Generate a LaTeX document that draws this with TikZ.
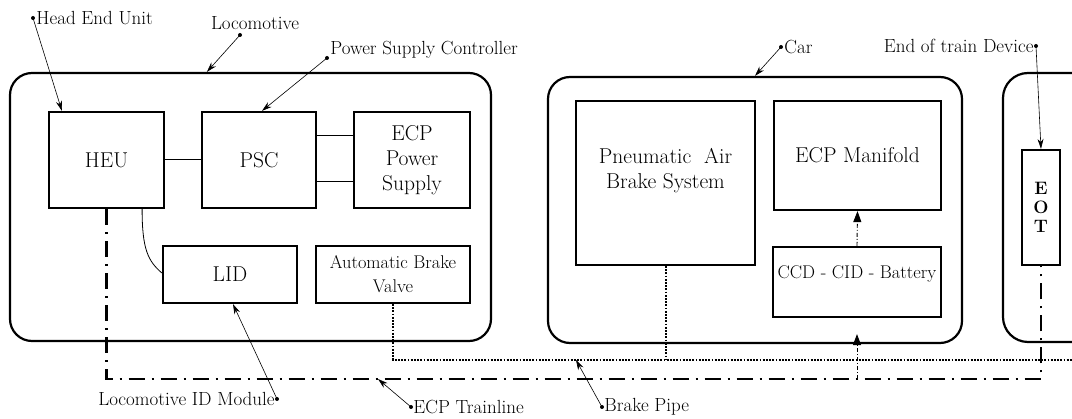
\documentclass[tikz,border=0pt]{standalone}
\usepackage{fix-cm}
\usetikzlibrary{arrows.meta,positioning,calc}

\begin{document}
\begin{tikzpicture}[x=1pt, y=-1pt, >=Stealth, thick,
    blk/.style={draw, line width=2.2pt, align=center, inner sep=0pt, font=\fontsize{21.5}{25}\selectfont},
    small/.style={font=\fontsize{18.4}{24}\selectfont},
    unit/.style={draw, line width=2.2pt, rounded corners=22pt, inner sep=0pt},
    tag/.style={font=\fontsize{19}{21}\selectfont, inner sep=0pt},
    ptr/.style={-{Stealth[length=10pt, width=6pt]}, line width=0.6pt},
    trainline/.style={line width=2.4pt, dash pattern=on 16pt off 7pt on 2pt off 7pt},
    brakepipe/.style={line width=2pt, dash pattern=on 1.8pt off 1.4pt},
    ecplink/.style={-{Triangle[length=11pt, width=8pt]}, line width=0.9pt, dash pattern=on 4pt off 2pt on 1pt off 2pt}]
    \clip (0,0) rectangle (1072,419);

    % Locomotive
    \node[unit, minimum width=481pt, minimum height=268pt] (loco) at (250.5,207) {};
    \node[blk, minimum width=115pt, minimum height=96pt] (heu) at (106.5,160) {HEU};
    \node[blk, minimum width=114pt, minimum height=96pt] (psc) at (259,160) {PSC};
    \node[blk, minimum width=116pt, minimum height=96pt] (eps) at (412,160) {ECP\\Power\\Supply};
    \node[blk, minimum width=134pt, minimum height=57pt] (lid) at (230,274.5) {LID};
    \node[blk, small, minimum width=154pt, minimum height=57pt] (abv) at (393,274.5) {Automatic Brake\\Valve};

    \draw[line width=1pt] (heu) -- (psc);
    \draw[line width=1pt] ([yshift=24pt]psc.east) -- ([yshift=24pt]eps.west);
    \draw[line width=1pt] ([yshift=-22pt]psc.east) -- ([yshift=-22pt]eps.west);
    \draw[line width=0.8pt] ([xshift=-23pt]heu.south east) .. controls +(0,40) and +(-14,-12) .. ([yshift=1.5pt]lid.west);

    % Car
    \node[unit, minimum width=414pt, minimum height=266pt] (car) at (755,210) {};
    \node[blk, minimum width=179pt, minimum height=164pt,
      label={[blk, draw=none, yshift=12pt]center:{Pneumatic\ \ Air\\Brake System}}] (pabs) at (665.5,183) {};
    \node[blk, minimum width=167pt, minimum height=109pt] (ecpm) at (857.5,155.5) {ECP Manifold};
    \node[blk, minimum width=168pt, minimum height=70pt,
      label={[blk, small, draw=none, yshift=8pt]center:CCD - CID - Battery}] (ccd) at (857,282) {};

    % End of train
    \node[unit, rounded corners=25pt, minimum width=97pt, minimum height=269pt] (eotu) at (1051.5,207.5) {};
    \node[blk, minimum width=38pt, minimum height=115pt, font=\fontsize{18}{19}\selectfont\bfseries] (eot) at (1041,207.5) {E\\O\\T};

    % Brake pipe
    \coordinate (bpR) at (1080,360);
    \draw[brakepipe] (abv.south) -- (abv.south |- bpR) -- (bpR);
    \draw[brakepipe] (pabs.south) -- (pabs.south |- bpR);

    % ECP trainline
    \coordinate (tlR) at (1041,379);
    \draw[trainline] (heu.south) -- (heu.south |- tlR) -- (tlR) -- (eot.south);
    \coordinate (carin) at ($(ccd.south |- car.south)+(0,-10)$);
    \draw[ecplink] (ccd.south |- tlR) -- (carin);
    \draw[ecplink] (ccd.north) -- (ecpm.south);

    % Labels
    \coordinate (dHEU) at (33,18);
    \node[tag, right=3pt of dHEU] (tHEU) {Head End Unit};
    \fill (dHEU) circle (2pt);
    \draw[ptr] (dHEU) -- ($(heu.north west)+(14,0)$);

    \coordinate (dLoco) at (240,35);
    \node[tag] (tLoco) at (255,23) {Locomotive};
    \fill (dLoco) circle (2pt);
    \draw[ptr] (dLoco) -- ($(loco.north west)+(198,0)$);

    \coordinate (dPSC) at (327,58);
    \node[tag, anchor=west] (tPSC) at (330,50) {Power Supply Controller};
    \fill (dPSC) circle (2pt);
    \draw[ptr] (dPSC) -- ($(psc.north)+(3,0)$);

    \coordinate (dCar) at (781,47);
    \node[tag, right=3pt of dCar] (tCar) {Car};
    \fill (dCar) circle (2pt);
    \draw[ptr] (dCar) -- (car.north);

    \coordinate (dEOT) at (1036,46);
    \node[tag, left=2pt of dEOT] (tEOT) {End of train Device};
    \fill (dEOT) circle (2pt);
    \draw[ptr] (dEOT) -- (eot.north);

    \coordinate (dLID) at (277,399);
    \node[tag, left=2pt of dLID] (tLID) {Locomotive ID Module};
    \fill (dLID) circle (2pt);
    \draw[ptr] (dLID) -- ($(lid.south)+(3,0)$);

    \coordinate (dTL) at (411,407);
    \node[tag, right=2pt of dTL] (tTL) {ECP Trainline};
    \fill (dTL) circle (2pt);
    \coordinate (pTL) at (378,379);
    \draw[ptr] (dTL) -- (pTL);

    \coordinate (dBP) at (602,407);
    \node[tag, right=2pt of dBP] (tBP) {Brake Pipe};
    \fill (dBP) circle (2pt);
    \coordinate (pBP) at (576,360);
    \draw[ptr] (dBP) -- (pBP);
\end{tikzpicture}
\end{document}
